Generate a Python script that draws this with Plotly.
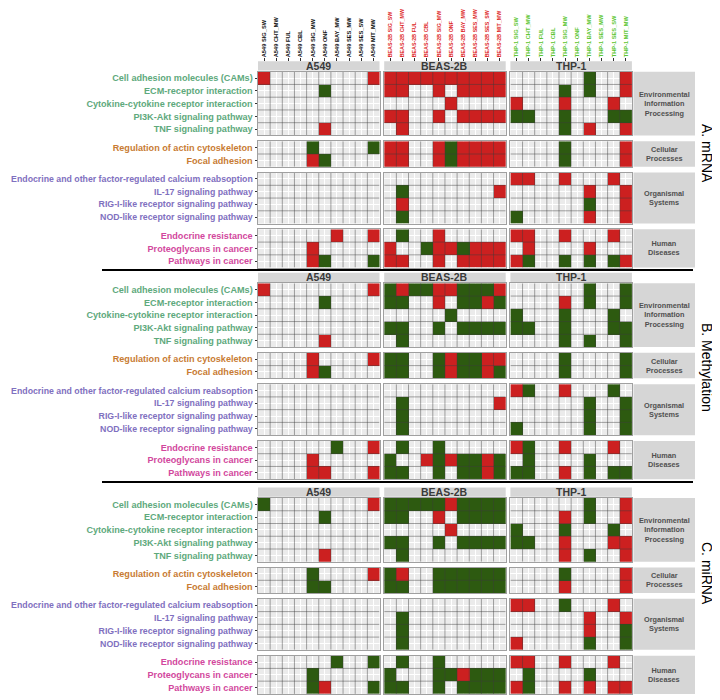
import plotly.graph_objects as go

# ---------------- data ----------------
cell_lines = ["A549", "BEAS-2B", "THP-1"]
treatments = ["SIG_SW", "CHT_MW", "FUL", "CBL", "SIG_MW", "ONF", "BAY_MW", "SES_MW", "SES_SW", "MIT_MW"]
omics = ["A. mRNA", "B. Methylation", "C. miRNA"]

categories = ["Environmental<br>Information<br>Processing", "Cellular<br>Processes",
              "Organismal<br>Systems", "Human<br>Diseases"]
pathways_env = ["Cell adhesion molecules (CAMs)", "ECM-receptor interaction",
                "Cytokine-cytokine receptor interaction", "PI3K-Akt signaling pathway",
                "TNF signaling pathway"]
pathways_cell = ["Regulation of actin cytoskeleton", "Focal adhesion"]
pathways_org = ["Endocrine and other factor-regulated calcium reabsoption", "IL-17 signaling pathway",
                "RIG-I-like receptor signaling pathway", "NOD-like receptor signaling pathway"]
pathways_hum = ["Endocrine resistance", "Proteoglycans in cancer", "Pathways in cancer"]

# R = red, G = green, . = not enriched ; one string per pathway (14 rows), one char per treatment
mrna_a549 = ["R........R", ".....G....", "..........", "..........", ".....R....",
             "....G....G", "....RG....",
             "..........", "..........", "..........", "..........",
             "......R..R", "....R.....", "....RG...G"]
mrna_beas = ["RRRRRRRRRR", "RR..R.RRRR", ".....R....", "RR..R.RRRR", ".R........",
             "RR..RGRRRR", "RR..RGRRRR",
             "..........", ".G.......R", ".R........", ".G........",
             ".G..R.....", "R..GRRGRRR", "RR..R.RRRR"]
mrna_thp = ["......G..R", "....G.G..R", "R...R...R.", "GG..G...GG", "....G.R..R",
            "....G....R", "....G....R",
            "RR..R...R.", "......R..R", "......G..R", "G.....R..R",
            "RR..R...R.", ".R....R...", "RG..G.G.GR"]

meth_a549 = ["R........R", ".....G....", "..........", "..........", ".....R....",
             "....R....R", "....RG....",
             "..........", "..........", "..........", "..........",
             "......G..R", "....R.....", "....RR...R"]
meth_beas = ["GRGGRRGGGR", "GG..R.GGRG", ".....G....", "GG..G.GGGG", ".G........",
             "GG..GRGGRR", "GG..GRGGRG",
             "..........", ".G.......R", ".G........", ".G........",
             ".G..G.....", "G..RGRGGRG", "GG..G.GGRG"]
meth_thp = ["......G..G", "....R.G..G", "G...G...G.", "GG..G...GG", "....G.G..G",
            "....G....G", "....G....G",
            "RG..R...G.", "......G..G", "......G..G", "G.....G..G",
            "RG..R...R.", ".G....G...", "GG..R.G.GG"]

mirna_a549 = ["G........R", ".....G....", "..........", "..........", ".....R....",
              "....G....R", "....GG....",
              "..........", "..........", "..........", "..........",
              "......G..G", "....G.....", "....GR...G"]
mirna_beas = ["GGGGGRGGGG", "GG..R.GGGG", ".....R....", "GG..G.GGGG", ".G........",
              "GR..GGGGGG", "GG..GGGGGG",
              "..........", ".G........", ".G........", ".G........",
              ".G..G.....", "G...GGRGGG", "GG..G.GGGG"]
mirna_thp = ["......G..R", "....R.G..R", "G...G...G.", "GG..R...RR", "....R.G..R",
             "....G....R", "....R....R",
             "RR..G...R.", "......R..R", "......R..G", "R.....G..G",
             "RR..R...R.", ".G....G...", "RG..R.R.RR"]

# ---------------- styling ----------------
RED = "#CC2020"
GREEN = "#2D5A10"
group_colors = ["#5EA97C", "#C87B33", "#7F70C0", "#D2479D"]
group_font = [9.1, 9.1, 8.75, 9.1]
line_colors = ["#111111", "#DD1E1E", "#60C634"]
line_font = [5.7, 5.35, 5.7]
FONT = "Liberation Sans, Arial, sans-serif"
STRIP = "#D6D6D6"

# the page has an 8 px body margin: positions below are in page pixels
OFF = 8
W, H = 720 - OFF, 700 - OFF
def fx(v):
    return (v - OFF) / W
def fy(v):
    return 1 - (v - OFF) / H

groups = [pathways_env, pathways_cell, pathways_org, pathways_hum]
datasets = [[mrna_a549, mrna_beas, mrna_thp],
            [meth_a549, meth_beas, meth_thp],
            [mirna_a549, mirna_beas, mirna_thp]]

panel_left = [258.0, 384.2, 510.4]
panel_w = 121.5
row_h = 12.75
group_gap = 5.8
env_tops = [71.7, 283.3, 498.0]
strip_x0, strip_x1 = 633.5, 695.0
label_centers = [153, 367, 573]
sep_lines = [270.0, 482.0]

code_val = {"R": 1, "G": 2, ".": None}
cscale = [[0, RED], [0.5, RED], [0.5, GREEN], [1, GREEN]]

fig = go.Figure()
layout = {}
shapes = []
annotations = []
ax = 0
env_axis = {}

for oi, omic in enumerate(omics):
    top = env_tops[oi]
    # header strips
    for ci, cl in enumerate(cell_lines):
        x0 = panel_left[ci]
        shapes.append(dict(type="rect", xref="paper", yref="paper",
                           x0=fx(x0), x1=fx(x0 + panel_w), y0=fy(top - 1.2), y1=fy(top - 10.5),
                           fillcolor=STRIP, line=dict(width=0)))
        annotations.append(dict(xref="paper", yref="paper", x=fx(x0 + panel_w / 2), y=fy(top - 5.9),
                                text="<b>%s</b>" % cl, showarrow=False,
                                font=dict(family=FONT, size=10.5, color="#3A3A3A"),
                                xanchor="center", yanchor="middle"))
    y_cursor = top
    row_start = 0
    for gi, paths in enumerate(groups):
        n = len(paths)
        y0, y1 = y_cursor, y_cursor + n * row_h
        for ci, cl in enumerate(cell_lines):
            ax += 1
            sfx = "" if ax == 1 else str(ax)
            rows = datasets[oi][ci][row_start:row_start + n]
            z = [[code_val[c] for c in r] for r in rows]
            fig.add_trace(go.Heatmap(
                z=z, x=list(range(len(treatments))), y=list(range(n)),
                xaxis="x" + sfx, yaxis="y" + sfx, colorscale=cscale, zmin=1, zmax=2,
                showscale=False, hoverinfo="skip"))
            xs, ys = [], []
            for k in range(1, len(treatments)):
                xs += [k - 0.5, k - 0.5, None]
                ys += [-0.5, n - 0.5, None]
            for k in range(1, n):
                xs += [-0.5, len(treatments) - 0.5, None]
                ys += [k - 0.5, k - 0.5, None]
            fig.add_trace(go.Scatter(x=xs, y=ys, mode="lines",
                                     line=dict(color="rgba(60,60,60,0.45)", width=1),
                                     hoverinfo="skip", showlegend=False,
                                     xaxis="x" + sfx, yaxis="y" + sfx))
            x0 = panel_left[ci]
            layout["xaxis" + sfx] = dict(
                domain=[fx(x0), fx(x0 + panel_w)], anchor="y" + sfx, automargin=False,
                range=[-0.5, len(treatments) - 0.5], tickvals=list(range(len(treatments))),
                showticklabels=False, ticks="", showgrid=True, gridcolor="white", gridwidth=1,
                zeroline=False, showline=True, linecolor="#A0A0A0", linewidth=1, mirror=True,
                fixedrange=True)
            ydict = dict(
                domain=[fy(y1), fy(y0)], anchor="x" + sfx, automargin=False,
                range=[n - 0.5, -0.5], tickvals=list(range(n)),
                showgrid=True, gridcolor="white", gridwidth=1, zeroline=False,
                showline=True, linecolor="#A0A0A0", linewidth=1, mirror=True, fixedrange=True)
            if ci == 0:
                ydict.update(ticktext=paths, showticklabels=True, ticks="outside", ticklen=2.5,
                             tickwidth=0.7, tickcolor="#333333",
                             tickfont=dict(family=FONT, size=group_font[gi], color=group_colors[gi],
                                           weight="bold"))
            else:
                ydict.update(showticklabels=False, ticks="")
            layout["yaxis" + sfx] = ydict
            if gi == 0 and oi == 0:
                env_axis[ci] = ax
        # right strip for category
        shapes.append(dict(type="rect", xref="paper", yref="paper",
                           x0=fx(strip_x0), x1=fx(strip_x1), y0=fy(y1), y1=fy(y0),
                           fillcolor=STRIP, line=dict(width=0)))
        annotations.append(dict(xref="paper", yref="paper", x=fx((strip_x0 + strip_x1) / 2),
                                y=fy((y0 + y1) / 2), text="<b>%s</b>" % categories[gi], showarrow=False,
                                font=dict(family=FONT, size=7.3, color="#505050"),
                                xanchor="center", yanchor="middle", align="center"))
        y_cursor = y1 + group_gap
        row_start += n
    # omic label
    annotations.append(dict(xref="paper", yref="paper", x=fx(707), y=fy(label_centers[oi]),
                            text=omic, showarrow=False, textangle=90,
                            font=dict(family=FONT, size=14, color="#000000"),
                            xanchor="center", yanchor="middle"))

# top column labels (treatment tick labels above panel A)
for ci, cl in enumerate(cell_lines):
    ax += 1
    base = env_axis[ci]
    bsfx = "" if base == 1 else str(base)
    sfx = str(ax)
    fig.add_trace(go.Scatter(x=[0], y=[0], mode="markers", marker=dict(opacity=0),
                             hoverinfo="skip", showlegend=False, xaxis="x" + sfx, yaxis="y" + bsfx))
    layout["xaxis" + sfx] = dict(
        overlaying="x" + bsfx, anchor="free", position=fy(env_tops[0] - 10.8), side="top",
        automargin=False,
        range=[-0.5, len(treatments) - 0.5], tickvals=list(range(len(treatments))),
        ticktext=["%s %s" % (cl, t) for t in treatments], tickangle=-90,
        ticks="outside", ticklen=2.5, tickwidth=0.7, tickcolor="#333333",
        tickfont=dict(family=FONT, size=line_font[ci], color=line_colors[ci], weight="bold"),
        showgrid=False, zeroline=False, showline=False, fixedrange=True)

# black separators between the three data types
for yv in sep_lines:
    shapes.append(dict(type="line", xref="paper", yref="paper", x0=fx(102), x1=fx(693),
                       y0=fy(yv), y1=fy(yv), line=dict(color="#000000", width=2)))

fig.update_layout(**layout)
fig.update_layout(template="none", width=W, height=H, autosize=False,
                  margin=dict(l=0, r=0, t=0, b=0, pad=0, autoexpand=False),
                  plot_bgcolor="#EBEBEB", paper_bgcolor="white", showlegend=False,
                  shapes=shapes, annotations=annotations, font=dict(family=FONT))

fig.write_html("out.html")
